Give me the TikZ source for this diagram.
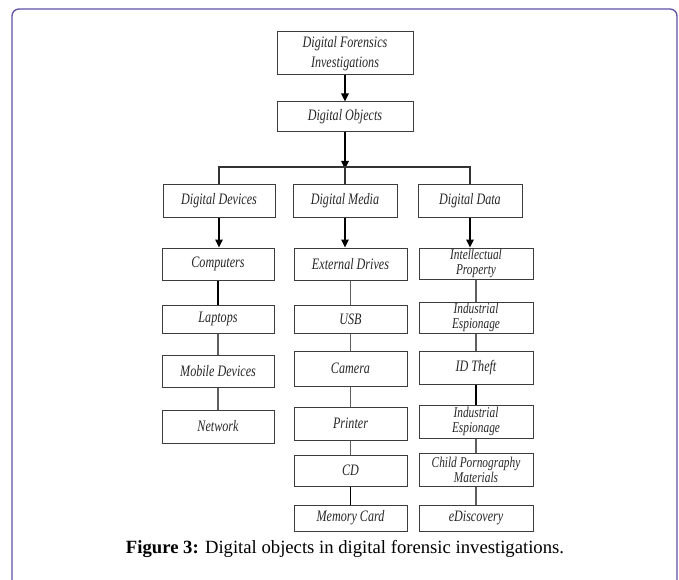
\documentclass[tikz,border=0pt]{standalone}
\usepackage{fontspec}
\setmainfont{Liberation Serif}
\newfontfamily\boxfont[FakeStretch=0.76]{Liberation Serif}
\usepackage{xcolor}
\usetikzlibrary{arrows.meta}

\definecolor{framecol}{RGB}{92,82,164}
\definecolor{boxline}{RGB}{60,60,60}
\definecolor{linkgray}{RGB}{95,95,95}

\tikzset{
	objbox/.style={draw=boxline, line width=1bp, inner sep=0pt, align=center,
		font=\boxfont\itshape\fontsize{16}{14}\selectfont, text=black!85},
	twoline/.style={font=\boxfont\itshape\fontsize{15}{15}\selectfont},
	link/.style={draw=linkgray, line width=1.3bp},
	darklink/.style={draw=black, line width=1.6bp},
	arr/.style={draw=black, line width=1.3bp, -{Triangle[length=8bp,width=7.5bp]}}
}

\begin{document}
\begin{tikzpicture}[x=1bp,y=-1bp]
		\useasboundingbox (0,0) rectangle (679,580);
		% frame
		\draw [framecol, line width=1.3bp, rounded corners=7bp] (12,9) rectangle (677,640);
		% top
		\node [objbox, minimum width=136bp, minimum height=43bp, font=\boxfont\itshape\fontsize{16}{20}\selectfont] (dfi) at (345,53.5) {Digital Forensics\\Investigations};
		\node [objbox, minimum width=136bp, minimum height=30bp] (dobj) at (345,117) {Digital Objects};
		\coordinate (split) at (345,167);
		% level one
		\node [objbox, minimum width=112bp, minimum height=32bp] (devices) at (219,201) {Digital Devices};
		\node [objbox, minimum width=104bp, minimum height=32bp] (media)   at (345,201) {Digital Media};
		\node [objbox, minimum width=104bp, minimum height=32bp] (data)    at (470,201) {Digital Data};
		% column a 162 - 274
		\node [objbox, minimum width=112bp, minimum height=32bp] (computers) at (218,264)   {Computers};
		\node [objbox, minimum width=112bp, minimum height=28bp] (laptops)   at (218,319)   {Laptops};
		\node [objbox, minimum width=112bp, minimum height=32bp] (mobile)    at (218,371)   {Mobile Devices};
		\node [objbox, minimum width=112bp, minimum height=33bp] (network)   at (218,426.5) {Network};
		% column b 294 - 407
		\node [objbox, minimum width=113bp, minimum height=32bp] (drives)  at (350.5,264)   {External Drives};
		\node [objbox, minimum width=113bp, minimum height=28bp] (usb)     at (350.5,319)   {USB};
		\node [objbox, minimum width=113bp, minimum height=35bp] (camera)  at (350.5,368.5) {Camera};
		\node [objbox, minimum width=113bp, minimum height=33bp] (printer) at (350.5,423.5) {Printer};
		\node [objbox, minimum width=113bp, minimum height=31bp] (cd)      at (350.5,470.5) {CD};
		\node [objbox, minimum width=113bp, minimum height=26bp] (memcard) at (350.5,518)   {Memory Card};
		% column c 419 - 533
		\node [objbox, twoline, minimum width=114bp, minimum height=31bp] (intprop)  at (476,263.5) {Intellectual\\Property};
		\node [objbox, twoline, minimum width=114bp, minimum height=31bp] (espion)   at (476,317.5) {Industrial\\Espionage};
		\node [objbox, minimum width=114bp, minimum height=33bp] (idtheft)  at (476,367.5) {ID Theft};
		\node [objbox, twoline, minimum width=114bp, minimum height=33bp] (espiontw) at (476,421.5) {Industrial\\Espionage};
		\node [objbox, twoline, minimum width=114bp, minimum height=33bp] (childmat) at (476,469.5) {Child Pornography\\Materials};
		\node [objbox, minimum width=114bp, minimum height=26bp] (ediscov)  at (476,518)   {eDiscovery};
		% connectors
		\draw [arr] (dfi) -- (dobj);
		\draw [arr] (dobj) -- ([yshift=-2bp]split);
		\draw [link, draw=black!80] (devices.north) |- (split) -| (data.north);
		\draw [link, draw=black!80] (split) -- (media.north);
		\draw [arr] (devices.south) -- (devices.south |- computers.north);
		\draw [arr] (media.south) -- (media.south |- drives.north);
		\draw [arr] (data.south) -- (data.south |- intprop.north);
		\draw [darklink] (computers) -- (laptops);
		\draw [link] (laptops) -- (mobile);
		\draw [link] (mobile) -- (network);
		\draw [link] (drives) -- (usb);
		\draw [link] (usb) -- (camera);
		\draw [link] (camera) -- (printer);
		\draw [link] (printer) -- (cd);
		\draw [darklink] (cd) -- (memcard);
		\draw [link] (intprop) -- (espion);
		\draw [link] (espion) -- (idtheft);
		\draw [darklink] (idtheft) -- (espiontw);
		\draw [link] (espiontw) -- (childmat);
		\draw [link] (childmat) -- (ediscov);
		% caption
		\node [anchor=base, inner sep=0pt, font=\fontsize{18.75}{22}\selectfont] (caption) at (345,553) {\textbf{Figure 3:} Digital objects in digital forensic investigations.};
	\end{tikzpicture}
\end{document}
